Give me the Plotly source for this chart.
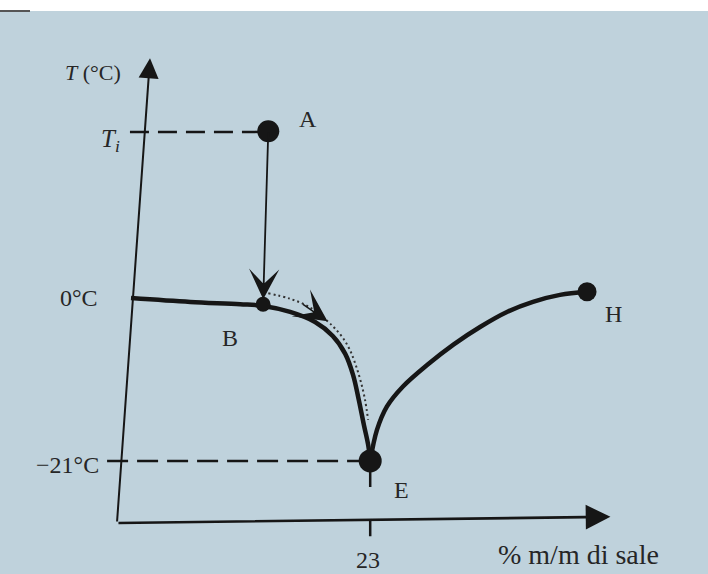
import plotly.graph_objects as go

# Phase diagram water / salt (schematic)
# composition in % m/m of salt, temperature in °C
liq_ice_x = [0.0, 5.7, 10.5, 12.6, 15.3, 17.7, 19.4, 20.6, 21.35, 21.9, 22.4, 22.8, 23.0]
liq_ice_t = [0.0, -0.5, -0.8, -1.0, -1.8, -3.1, -4.9, -7.2, -9.9, -13.1, -16.4, -18.9, -21.0]

liq_salt_x = [23.0, 23.65, 24.6, 26.15, 28.5, 31.0, 33.6, 36.15, 38.65, 41.25, 43.85]
liq_salt_t = [-21.0, -17.0, -14.0, -11.4, -8.6, -6.0, -3.7, -1.8, -0.5, 0.4, 0.8]

# cooling path followed after B (dotted)
path_x = [13.2, 15.3, 17.2, 18.9, 19.6, 20.4, 21.05, 21.6, 22.1, 22.5, 22.8]
path_t = [0.6, -0.1, -1.2, -3.0, -3.9, -5.2, -6.7, -8.6, -10.8, -13.1, -15.7]

point_names = ["A", "B", "E", "H"]
point_x = [13.2, 12.7, 23.0, 43.85]
point_t = [21.5, -0.8, -21.0, 0.8]
point_size = [22, 15, 23, 19]

T_i = 21.4
T_eut = -21.0
x_eut = 23.0

# ends of the drawn axes (origin, top of T axis, end of composition axis)
axis_origin = (-1.35, -29.0)
axis_t_end = (1.83, 30.9)
axis_x_end = (46.1, -28.2)

INK = "#161616"
TXT = "#262626"
FONT = "Liberation Serif"

# 10.4 px per % and 7.76 px per °C on a 708x574 canvas
X_RANGE = [-131 / 10.4, (708 - 131) / 10.4]
Y_RANGE = [(298 - 574) / 7.76, 298 / 7.76]

fig = go.Figure()


def seg(xs, ys, width, dash="solid", color=INK, shape="linear"):
    fig.add_trace(go.Scatter(x=xs, y=ys, mode="lines", line_shape=shape,
                             line=dict(color=color, width=width, dash=dash),
                             hoverinfo="skip"))


# dashed guide lines
seg([-0.1, point_x[0]], [T_i, T_i], 2.5, "19px,9px")
seg([-2.3, x_eut], [T_eut, T_eut], 2.5, "21px,9px")
seg([x_eut, x_eut], [T_eut, -30.7], 2.5, "26px,32px")

# dotted cooling path
seg(path_x, path_t, 2, "2px,3px", color="#333333", shape="spline")

# liquidus curves
seg(liq_ice_x, liq_ice_t, 4.5, shape="spline")
seg(liq_salt_x, liq_salt_t, 4.5, shape="spline")

# labelled points
fig.add_trace(go.Scatter(x=point_x, y=point_t, mode="markers",
                         marker=dict(color=INK, size=point_size, opacity=1,
                                     line=dict(width=0)),
                         hoverinfo="skip"))

annotations = []


def arrow(tail, tip, head, size, width, standoff=0):
    annotations.append(dict(
        x=tip[0], y=tip[1], ax=tail[0], ay=tail[1],
        xref="x", yref="y", axref="x", ayref="y",
        text="", showarrow=True, arrowhead=head, arrowsize=size, arrowwidth=width,
        arrowcolor=INK, standoff=standoff))


def label(x, y, text, size=24):
    annotations.append(dict(x=x, y=y, xref="x", yref="y", text=text, showarrow=False,
                            xanchor="center", yanchor="middle",
                            font=dict(family=FONT, size=size, color=TXT)))


# axes
arrow(axis_origin, axis_t_end, 2, 2.0, 2)
arrow(axis_origin, axis_x_end, 2, 1.9, 2.6)
# isothermal cooling A -> B
arrow((point_x[0], point_t[0]), (point_x[1], point_t[1]), 3, 2.8, 1.8, standoff=5)
# direction of the cooling path
arrow((16.4, -0.7), (path_x[3], path_t[3]), 3, 3.6, 1.5)

label(-3.65, 29.0, "<i>T</i> (°C)", size=22)
label(-2.0, 20.3, "<i>T</i><sub><i>i</i></sub>", size=25)
label(-5.0, 0.0, "0°C", size=24)
label(-6.1, -21.5, "−21°C", size=24)
label(17.0, 23.1, "A")
label(9.5, -5.1, "B")
label(26.0, -24.8, "E")
label(46.4, -2.0, "H")
label(22.8, -33.7, "23")
label(43.0, -33.0, "% m/m di sale", size=28)

fig.update_layout(
    width=708, height=574,
    margin=dict(l=0, r=0, t=0, b=0),
    paper_bgcolor="white", plot_bgcolor="white",
    showlegend=False,
    xaxis=dict(range=X_RANGE, visible=False, fixedrange=True),
    yaxis=dict(range=Y_RANGE, visible=False, fixedrange=True),
    annotations=annotations,
    shapes=[
        dict(type="rect", xref="paper", yref="paper", x0=0, x1=1, y0=0, y1=1 - 11 / 574,
             fillcolor="#bfd2dc", line=dict(width=0), layer="below"),
        dict(type="line", xref="paper", yref="paper", x0=0, x1=30 / 708,
             y0=1 - 11 / 574, y1=1 - 11 / 574, line=dict(color="#555555", width=2)),
    ],
)

fig.write_html("out.html")
